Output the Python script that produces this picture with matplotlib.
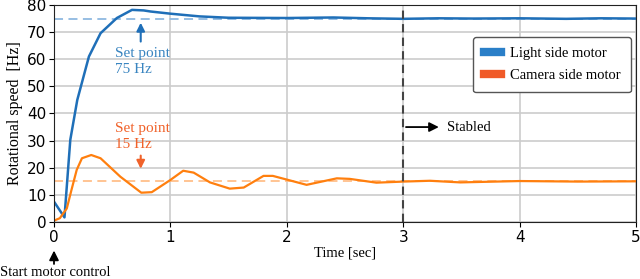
import matplotlib
import matplotlib.pyplot as plt
import numpy as np
from matplotlib.lines import Line2D

matplotlib.use("Agg")

# light side motor (blue)
light_t = [0.0, 0.09, 0.14, 0.2, 0.3, 0.4, 0.54, 0.67, 0.77, 0.83, 1.0, 1.25,
           1.5, 2.0, 2.4, 2.7, 3.0, 3.3, 3.6, 4.0, 4.4, 4.7, 5.0]
light_v = [7.5, 1.7, 30.3, 45.0, 61.0, 69.6, 75.2, 78.2, 78.0, 77.6, 76.8, 75.8,
           75.3, 75.2, 75.4, 75.1, 74.9, 75.1, 75.0, 75.1, 74.9, 75.1, 75.0]

# camera side motor (orange)
cam_t = [0.0, 0.05, 0.11, 0.15, 0.195, 0.24, 0.32, 0.4, 0.57, 0.75, 0.84, 1.0,
         1.11, 1.2, 1.34, 1.51, 1.63, 1.8, 1.88, 2.17, 2.43, 2.54, 2.77, 3.0,
         3.23, 3.49, 4.0, 4.5, 5.0]
cam_v = [0.5, 1.4, 5.0, 11.8, 19.2, 23.5, 24.7, 23.5, 16.7, 10.8, 11.0, 15.5,
         18.9, 18.2, 14.6, 12.3, 12.7, 17.0, 17.0, 13.7, 16.1, 15.9, 14.5, 14.9,
         15.2, 14.6, 15.1, 14.9, 15.0]

setpoints = [75, 15]
legend_labels = ["Light side motor", "Camera side motor"]

blue = "#1f6fb8"
orange = "#ff7f0e"
blue_txt = "#3a85c0"
orange_txt = "#f0622a"
serif = "Liberation Serif"

fig = plt.figure(figsize=(6.4, 2.79), dpi=100)
ax = fig.add_axes([54 / 640, 1 - 222 / 279, 582 / 640, 217 / 279])

ax.grid(True, color="#cccccc", lw=1.2)
ax.set_axisbelow(True)

# set points
ax.plot([0, 5], [setpoints[0]] * 2, ls="--", color="#8fb9e0", lw=1.3, dashes=(5, 3))
ax.plot([0, 5], [setpoints[1]] * 2, ls="--", color="#ffbf8a", lw=1.3, dashes=(5, 3))

ax.plot(light_t, light_v, color=blue, lw=1.8)
ax.plot(cam_t, cam_v, color=orange, lw=1.6)

ax.axvline(3, color="#444444", ls="--", lw=1.5, dashes=(4, 2.5))

ax.set_xlim(0, 5)
ax.set_ylim(0, 80)
ax.set_xticks(range(6))
ax.set_yticks(range(0, 81, 10))
ax.tick_params(labelsize=11, pad=2)
for s in ax.spines.values():
    s.set_color("#222222")

ax.set_xlabel("Time [sec]", fontfamily=serif, fontsize=10.5, labelpad=1)
ax.set_ylabel("Rotational speed  [Hz]", fontfamily=serif, fontsize=11.5, labelpad=3)

# annotations
ax.annotate("", xy=(0.745, 74.5), xytext=(0.745, 65.5),
            arrowprops=dict(arrowstyle="-|>", color=blue, lw=1.5, mutation_scale=12))
ax.text(0.52, 64.6, "Set point\n75 Hz", color=blue_txt, fontfamily=serif,
        fontsize=11, va="top", ha="left", linespacing=1.3)

ax.annotate("", xy=(0.745, 18.6), xytext=(0.745, 25.5),
            arrowprops=dict(arrowstyle="-|>", color=orange_txt, lw=1.5, mutation_scale=12))
ax.text(0.52, 37.0, "Set point\n15 Hz", color=orange_txt, fontfamily=serif,
        fontsize=11, va="top", ha="left", linespacing=1.3)

ax.annotate("", xy=(3.33, 35), xytext=(3.0, 35),
            arrowprops=dict(arrowstyle="-|>", color="black", lw=1.3, mutation_scale=14))
ax.text(3.38, 35, "Stabled", fontfamily=serif, fontsize=10.5, va="center", ha="left")

ax.annotate("", xy=(0, -9.5), xytext=(0, -16.5), annotation_clip=False,
            arrowprops=dict(arrowstyle="-|>", color="black", lw=1.3, mutation_scale=14))
ax.text(0.01, -18.8, "Start motor control", fontfamily=serif, fontsize=10.5,
        va="center", ha="center", clip_on=False)

handles = [Line2D([], [], color="#2a7fc8", lw=6),
           Line2D([], [], color="#f05a28", lw=6)]
leg = ax.legend(handles, legend_labels, loc="upper right", borderaxespad=0,
                bbox_to_anchor=(0.991, 0.853), prop={"family": serif, "size": 10.5},
                handlelength=1.2, handletextpad=0.6, labelspacing=0.6, borderpad=0.7,
                fancybox=True, framealpha=1.0, edgecolor="#555555")
leg.get_frame().set_linewidth(1.0)

fig.savefig("out.png", dpi=100)
